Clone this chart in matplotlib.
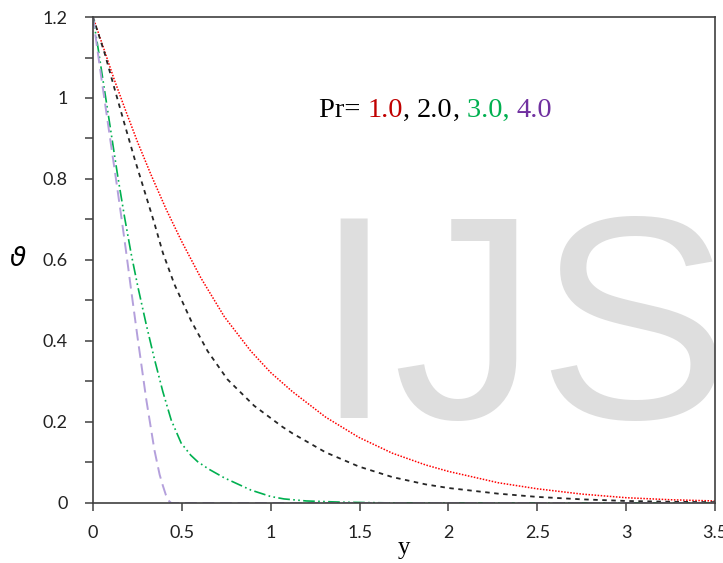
import matplotlib
matplotlib.use("Agg")
import matplotlib.pyplot as plt
from matplotlib.ticker import MultipleLocator

# curves (y, theta)
x_pr1 = [0, 0.066, 0.12, 0.187, 0.252, 0.327, 0.412, 0.5, 0.608, 0.739, 0.888, 1.0, 1.122, 1.309,
         1.496, 1.684, 1.871, 2.0, 2.28, 2.5, 2.75, 3.0, 3.25, 3.5]
t_pr1 = [1.2, 1.115, 1.045, 0.965, 0.89, 0.81, 0.725, 0.645, 0.555, 0.46, 0.375, 0.322, 0.275, 0.212,
         0.162, 0.123, 0.094, 0.078, 0.05, 0.035, 0.022, 0.013, 0.008, 0.005]

x_pr2 = [0, 0.066, 0.12, 0.178, 0.234, 0.29, 0.346, 0.393, 0.458, 0.552, 0.645, 0.757, 0.907, 1.066,
         1.122, 1.309, 1.496, 1.684, 1.871, 2.0, 2.28, 2.5, 2.75, 3.0, 3.25, 3.5]
t_pr2 = [1.2, 1.11, 1.025, 0.935, 0.85, 0.77, 0.69, 0.618, 0.54, 0.45, 0.375, 0.305, 0.24, 0.188,
         0.172, 0.125, 0.09, 0.064, 0.046, 0.037, 0.023, 0.015, 0.009, 0.005, 0.003, 0.002]

x_pr3 = [0, 0.028, 0.056, 0.084, 0.112, 0.14, 0.178, 0.215, 0.252, 0.3, 0.346, 0.393, 0.44, 0.496,
         0.55, 0.589, 0.65, 0.739, 0.888, 1.0, 1.075, 1.2, 1.4, 1.7, 2.0, 2.5, 3.0, 3.5]
t_pr3 = [1.2, 1.125, 1.045, 0.965, 0.885, 0.805, 0.705, 0.615, 0.535, 0.44, 0.355, 0.275, 0.205, 0.148,
         0.118, 0.102, 0.084, 0.062, 0.032, 0.016, 0.01, 0.005, 0.002, 0.0, 0.0, 0.0, 0.0, 0.0]

x_pr4 = [0, 0.02, 0.047, 0.075, 0.103, 0.131, 0.159, 0.185, 0.215, 0.252, 0.3, 0.346, 0.375, 0.393,
         0.41, 0.425, 0.44, 0.6, 1.0, 2.0, 3.5]
t_pr4 = [1.2, 1.135, 1.05, 0.965, 0.88, 0.795, 0.708, 0.625, 0.525, 0.405, 0.255, 0.13, 0.07, 0.043,
         0.02, 0.006, 0.0, 0.0, 0.0, 0.0, 0.0]

xticks = [0, 0.5, 1, 1.5, 2, 2.5, 3, 3.5]
xlabels = ["0", "0.5", "1", "1.5", "2", "2.5", "3", "3.5"]
yticks = [0, 0.2, 0.4, 0.6, 0.8, 1.0, 1.2]
ylabels = ["0", "0.2", "0.4", "0.6", "0.8", "1", "1.2"]

fig = plt.figure(figsize=(7.23, 5.63), dpi=100)
ax = fig.add_axes([0.1286, 0.1066, 0.8604, 0.8632])

# watermark behind the curves, clipped to the plot area
ax.text(0.433, 0.258, "IJS", transform=fig.transFigure, fontsize=208, family="Liberation Sans",
        color="#dedede", ha="left", va="baseline", zorder=1, clip_on=True)

ax.plot(x_pr1, t_pr1, color="#ff0000", lw=1.1, ls=(0, (1, 1)), zorder=3)
ax.plot(x_pr2, t_pr2, color="#262626", lw=1.3, ls=(0, (2.5, 2.5)), zorder=3)
ax.plot(x_pr3, t_pr3, color="#00b050", lw=1.2, ls=(0, (7, 2, 1, 2, 1, 2)), zorder=3)
ax.plot(x_pr4, t_pr4, color="#b4a0dc", lw=1.4, ls=(0, (6, 3)), zorder=3)

ax.set_xlim(0, 3.5)
ax.set_ylim(0, 1.2)
ax.set_xticks(xticks)
ax.set_xticklabels(xlabels)
ax.set_yticks(yticks)
ax.set_yticklabels(ylabels)
ax.yaxis.set_minor_locator(MultipleLocator(0.1))
ax.tick_params(axis="both", which="both", direction="out", length=6, width=1.1, color="#404040",
               labelsize=13, labelcolor="#222222")
ax.tick_params(axis="y", pad=12)
ax.tick_params(axis="x", pad=10)
for lbl in ax.get_xticklabels() + ax.get_yticklabels():
    lbl.set_family("Lato")
for sp in ax.spines.values():
    sp.set_color("#404040")
    sp.set_linewidth(1.2)
    sp.set_zorder(4)

ax.set_xlabel("y", family="Liberation Serif", fontsize=18, labelpad=-3)
fig.text(0.025, 0.54, r"$\vartheta$", fontsize=19, ha="center", va="center")

# multi colour legend text
parts = [("Pr= ", "black"), ("1.0", "#c00000"), (", ", "black"), ("2.0", "black"), (", ", "black"),
         ("3.0, ", "#00b050"), ("4.0", "#7030a0")]
prev = ax.text(0.363, 0.794, parts[0][0], transform=ax.transAxes, family="Liberation Serif",
               fontsize=20.5, color=parts[0][1], va="baseline", zorder=5)
for s, c in parts[1:]:
    prev = ax.annotate(s, xy=(1, 0), xycoords=prev, family="Liberation Serif", fontsize=20.5,
                       color=c, va="bottom", zorder=5)

fig.savefig("out.png", dpi=100)
